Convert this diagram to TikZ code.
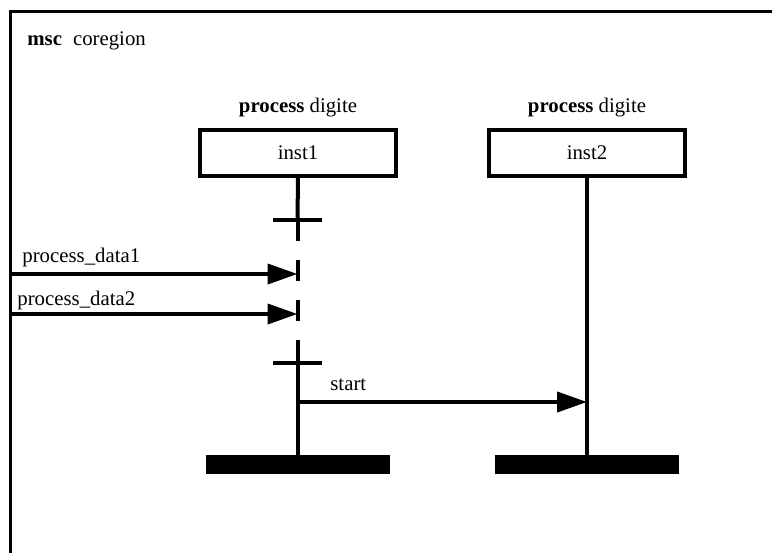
\documentclass[tikz,border=0pt]{standalone}
\usepackage{fontspec}
\setmainfont{Liberation Serif}
\usetikzlibrary{arrows.meta, positioning}
\tikzstyle{instance} = [rectangle, draw=black, line width=2pt, minimum width=98pt, minimum height=23pt, inner sep=0pt, text centered]
\tikzstyle{head} = [inner sep=0pt, anchor=base]
\tikzstyle{lifeline} = [line width=2pt]
\tikzstyle{endbar} = [rectangle, fill=black, minimum width=92pt, minimum height=9.5pt, inner sep=0pt, outer sep=0pt]
\tikzstyle{message} = [line width=2pt, -{Triangle[length=15pt, width=10pt]}]
\tikzstyle{msglabel} = [inner sep=0pt, anchor=base west]

\begin{document}
\begin{tikzpicture}[x=0.5pt, y=-0.5pt, font=\fontsize{10.4}{12.5}\selectfont]
\useasboundingbox (0,0) rectangle (772,553);

% frame
\draw [line width=1.75pt] (10.5,553) -- (10.5,11.5) -- (775,11.5);
\node (title) [msglabel] at (27,45) {\textbf{msc}\hspace{5.5pt}coregion};

% instances
\node (inst1) [instance] at (298,152.5) {inst1};
\node (inst2) [instance] at (587,152.5) {inst2};
\node (head1) [head] at (298,112) {\textbf{process} digite};
\node (head2) [head] at (587,112) {\textbf{process} digite};
\node (end1) [endbar] at (297.5,464.5) {};
\node (end2) [endbar] at (587,464.5) {};

% coregion on inst1
\coordinate (cotop) at (297.5,220);
\coordinate (cobot) at (297.5,363);
\draw [lifeline] (inst1.south) -- (cotop);
\draw [lifeline, dash pattern=on 10.5pt off 9.5pt] (cotop) -- (cobot);
\draw [lifeline] (cobot) -- (end1.north);
\draw [lifeline] ([xshift=-12.25pt]cotop) -- ([xshift=12.25pt]cotop);
\draw [lifeline] ([xshift=-12.25pt]cobot) -- ([xshift=12.25pt]cobot);
\draw [lifeline] (inst2.south) -- (end2.north);

% messages
\coordinate (env1) at (10.5,274);
\coordinate (in1) at (297.5,274);
\coordinate (env2) at (10.5,314);
\coordinate (in2) at (297.5,314);
\coordinate (out3) at (297.5,402);
\coordinate (in3) at (587,402);
\draw [message] (env1) -- (in1);
\draw [message] (env2) -- (in2);
\draw [message] (out3) -- (in3);
\node (lbl1) [msglabel] at (22,262) {process\_data1};
\node (lbl2) [msglabel] at (17,305) {process\_data2};
\node (lbl3) [msglabel] at (330,390) {start};

\end{tikzpicture}
\end{document}
